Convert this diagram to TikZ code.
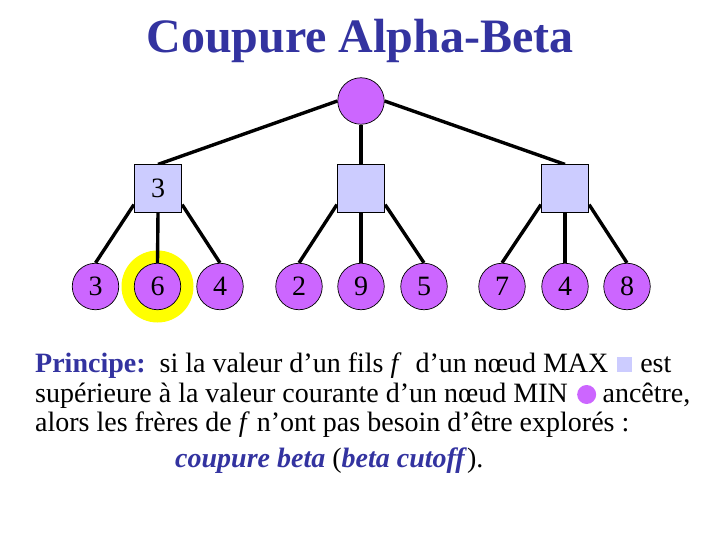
\documentclass[tikz,border=0pt]{standalone}
\usepackage{fontspec}
\setmainfont{Liberation Serif}
\usetikzlibrary{backgrounds}
\definecolor{titleblue}{RGB}{51,51,160}
\definecolor{minfill}{RGB}{204,102,255}
\definecolor{maxfill}{RGB}{204,204,255}
\definecolor{halo}{RGB}{255,255,0}
\tikzset{
  minnode/.style={circle, draw=black, line width=0.7pt, fill=minfill, minimum size=46.5pt, inner sep=0pt, font=\fontsize{28}{30}\selectfont},
  maxnode/.style={rectangle, draw=black, line width=0.7pt, fill=maxfill, minimum width=47.5pt, minimum height=47.5pt, inner sep=0pt, font=\fontsize{28}{30}\selectfont},
  edge/.style={line width=3.4pt, black},
  body/.style={anchor=base west, inner sep=0pt, font=\fontsize{28}{30}\selectfont},
}
\begin{document}
\begin{tikzpicture}[x=1pt,y=-1pt]
\useasboundingbox (0,0) rectangle (720,540);
% title
\node[anchor=base, inner sep=0pt, text=titleblue, font=\fontsize{48}{55}\selectfont\bfseries] (title) at (360,53) {Coupure Alpha-Beta};
% root
\node[minnode] (root) at (361,101) {};
% max nodes
\node[maxnode] (s1) at (158,188.5) {3};
\node[maxnode] (s2) at (361,188.5) {};
\node[maxnode] (s3) at (565,188.5) {};
% leaves
\node[minnode] (a1) at (95.5,286.5) {3};
\node[minnode] (a2) at (157.5,286.5) {6};
\node[minnode] (a3) at (220,286.5) {4};
\node[minnode] (b1) at (299,286.5) {2};
\node[minnode] (b2) at (361,286.5) {9};
\node[minnode] (b3) at (424,286.5) {5};
\node[minnode] (c1) at (502,286.5) {7};
\node[minnode] (c2) at (565,286.5) {4};
\node[minnode] (c3) at (627,286.5) {8};
\begin{pgfonlayer}{background}
% halo
\fill[halo] (a2.center) circle[radius=36];
% edges
\draw[edge] (root.west) -- (s1.north);
\draw[edge] (root.south) -- (s2.north);
\draw[edge] (root.east) -- (s3.north);
\draw[edge] ([yshift=8pt]s1.south west) -- (a1.north);
\draw[edge] (s1.south) -- (a2.north);
\draw[edge] ([yshift=8pt]s1.south east) -- (a3.north);
\draw[edge] ([yshift=8pt]s2.south west) -- (b1.north);
\draw[edge] (s2.south) -- (b2.north);
\draw[edge] ([yshift=8pt]s2.south east) -- (b3.north);
\draw[edge] ([yshift=8pt]s3.south west) -- (c1.north);
\draw[edge] (s3.south) -- (c2.north);
\draw[edge] ([yshift=8pt]s3.south east) -- (c3.north);
\end{pgfonlayer}
% text
\node[body] (l1a) at (35,372) {\textcolor{titleblue}{\textbf{Principe:}}\ \ si la valeur d’un fils \textit{f} \ d’un nœud MAX};
\node[rectangle, fill=maxfill, minimum size=15pt, inner sep=0pt, anchor=west] (iconmax) at ([xshift=8pt,yshift=7.5pt]l1a.base east) {};
\node[body] (l1b) at ([xshift=8pt]iconmax.east |- l1a.base) {est};
\node[body] (l2a) at (35,402) {supérieure à la valeur courante d’un nœud MIN};
\node[circle, fill=minfill, minimum size=19pt, inner sep=0pt, anchor=west] (iconmin) at ([xshift=9pt,yshift=7.5pt]l2a.base east) {};
\node[body] (l2b) at ([xshift=6pt]iconmin.east |- l2a.base) {ancêtre,};
\node[body] (l3) at (35,431) {alors les frères de \textit{f} n’ont pas besoin d’être explorés :};
\node[body] (l4) at (175,467) {\textcolor{titleblue}{\textbf{\textit{coupure beta}}} (\textcolor{titleblue}{\textbf{\textit{beta cutoff}}}).};
\end{tikzpicture}
\end{document}
